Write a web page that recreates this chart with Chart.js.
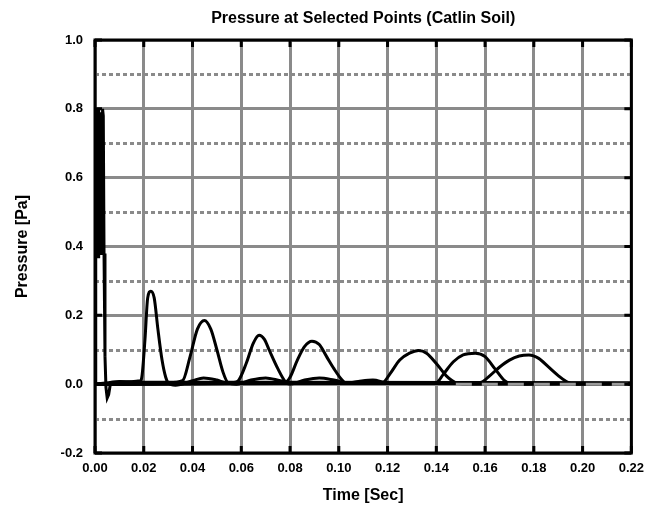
<!DOCTYPE html>
<html>
<head>
<meta charset="utf-8">
<script src="https://cdn.jsdelivr.net/npm/chart.js@4.4.1/dist/chart.umd.min.js"></script>
<style>
  html, body { margin: 0; padding: 0; background: #fff; }
  canvas { display: block; }
</style>
</head>
<body>
<canvas id="chart" width="652" height="510"></canvas>
<script>
// Labels
const chartTitle = 'Pressure at Selected Points (Catlin Soil)';
const xAxisTitle = 'Time [Sec]';
const yAxisTitle = 'Pressure [Pa]';

// Axis ticks
const xTickValues = [0, 0.02, 0.04, 0.06, 0.08, 0.10, 0.12, 0.14, 0.16, 0.18, 0.20, 0.22];
const yTickValues = [-0.2, 0, 0.2, 0.4, 0.6, 0.8, 1.0];
const yMinorValues = [-0.1, 0.1, 0.3, 0.5, 0.7, 0.9];

// Pressure histories at the selected points (time in s, pressure in Pa)
const time1 = [0, 0.0003, 0.0005, 0.0007, 0.0009, 0.0011, 0.0013, 0.0015, 0.0017, 0.0019, 0.0021, 0.0023, 0.0025, 0.0027, 0.0029, 0.0031, 0.0034, 0.0037, 0.0041, 0.0045, 0.0050, 0.0056, 0.0064, 0.0100, 0.0160, 0.22];
const pressure1 = [0, 0.80, 0.37, 0.80, 0.38, 0.79, 0.37, 0.80, 0.38, 0.79, 0.39, 0.78, 0.38, 0.79, 0.40, 0.80, 0.78, 0.38, 0.08, -0.01, -0.04, -0.03, 0.005, 0.008, 0.006, 0.004];

const time2 = [0, 0.010, 0.0185, 0.0192, 0.0205, 0.0216, 0.0229, 0.0243, 0.0258, 0.0275, 0.0290, 0.0300, 0.0330, 0.0400, 0.0445, 0.0500, 0.0540, 0.0800, 0.22];
const pressure2 = [0, 0.006, 0.010, 0.020, 0.13, 0.25, 0.27, 0.25, 0.16, 0.07, 0.02, 0.004, -0.003, 0.010, 0.018, 0.012, 0.004, 0.003, 0.002];

const time3 = [0, 0.030, 0.0359, 0.039, 0.042, 0.0449, 0.0475, 0.050, 0.0525, 0.0545, 0.058, 0.064, 0.070, 0.076, 0.082, 0.22];
const pressure3 = [0, 0.004, 0.010, 0.08, 0.16, 0.185, 0.16, 0.10, 0.035, 0.005, 0.0, 0.012, 0.018, 0.010, 0.003, 0.002];

const time4 = [0, 0.050, 0.057, 0.059, 0.062, 0.065, 0.0673, 0.0695, 0.0714, 0.075, 0.078, 0.080, 0.086, 0.092, 0.098, 0.104, 0.22];
const pressure4 = [0, 0.004, 0.005, 0.012, 0.06, 0.12, 0.142, 0.13, 0.10, 0.045, 0.008, 0.0, 0.012, 0.018, 0.012, 0.003, 0.002];

const time5 = [0, 0.070, 0.078, 0.080, 0.083, 0.086, 0.089, 0.092, 0.095, 0.098, 0.101, 0.103, 0.108, 0.114, 0.120, 0.22];
const pressure5 = [0, 0.003, 0.005, 0.02, 0.07, 0.11, 0.125, 0.115, 0.08, 0.045, 0.015, 0.003, 0.008, 0.012, 0.004, 0.002];

const time6 = [0, 0.110, 0.118, 0.121, 0.125, 0.129, 0.1327, 0.136, 0.140, 0.144, 0.148, 0.152, 0.22];
const pressure6 = [0, 0.004, 0.005, 0.03, 0.07, 0.09, 0.098, 0.09, 0.06, 0.025, 0.004, 0.0, 0.002];

const time7 = [0, 0.130, 0.140, 0.143, 0.147, 0.151, 0.156, 0.160, 0.164, 0.168, 0.170, 0.174, 0.22];
const pressure7 = [0, 0.004, 0.005, 0.03, 0.065, 0.085, 0.09, 0.08, 0.045, 0.01, 0.002, 0.0, 0.002];

const time8 = [0, 0.150, 0.158, 0.162, 0.166, 0.170, 0.174, 0.178, 0.182, 0.186, 0.190, 0.194, 0.197, 0.22];
const pressure8 = [0, 0.004, 0.005, 0.025, 0.05, 0.07, 0.082, 0.085, 0.075, 0.05, 0.025, 0.005, 0.0, 0.0];

// Grey dashed reference trace along zero at late times
const timeRef = [0.148, 0.22];
const pressureRef = [0, 0];

const GRID = '#8a8a8a';
const FONT = '"Liberation Sans", Arial, sans-serif';

function toPoints(ts, ps) {
  return ts.map((t, i) => ({ x: t, y: ps[i] }));
}

const series = [
  [time1, pressure1, 0], [time2, pressure2, 0.4], [time3, pressure3, 0.4], [time4, pressure4, 0.4],
  [time5, pressure5, 0.4], [time6, pressure6, 0.4], [time7, pressure7, 0.4], [time8, pressure8, 0.4]
];

const datasets = series.map(([ts, ps, tension], i) => ({
  label: 'Point ' + (i + 1),
  data: toPoints(ts, ps),
  borderColor: '#000',
  borderWidth: 3,
  pointRadius: 0,
  tension: tension,
  cubicInterpolationMode: tension ? 'monotone' : 'default',
  fill: false,
  order: 1
}));

datasets.push({
  label: 'Reference',
  data: toPoints(timeRef, pressureRef),
  borderColor: '#9a9a9a',
  borderWidth: 3,
  borderDash: [16, 10],
  pointRadius: 0,
  fill: false,
  order: 0
});

// Dotted minor lines, black frame with inward ticks, and the title
const framePlugin = {
  id: 'frame',
  beforeDatasetsDraw(chart) {
    const { ctx, chartArea: a, scales: { y } } = chart;
    ctx.save();
    ctx.strokeStyle = GRID;
    ctx.lineWidth = 3;
    ctx.setLineDash([4, 3]);
    yMinorValues.forEach(v => {
      const py = Math.round(y.getPixelForValue(v)) + 0.5;
      ctx.beginPath();
      ctx.moveTo(a.left, py);
      ctx.lineTo(a.right, py);
      ctx.stroke();
    });
    ctx.restore();
  },
  afterDraw(chart) {
    const { ctx, chartArea: a, scales: { x, y } } = chart;
    ctx.save();
    ctx.strokeStyle = '#000';
    ctx.lineWidth = 3;
    ctx.setLineDash([]);
    ctx.strokeRect(a.left, a.top, a.right - a.left, a.bottom - a.top);
    const len = 7;
    ctx.beginPath();
    xTickValues.forEach(v => {
      const px = x.getPixelForValue(v);
      ctx.moveTo(px, a.bottom); ctx.lineTo(px, a.bottom - len);
      ctx.moveTo(px, a.top); ctx.lineTo(px, a.top + len);
    });
    yTickValues.forEach(v => {
      const py = y.getPixelForValue(v);
      ctx.moveTo(a.left, py); ctx.lineTo(a.left + len, py);
      ctx.moveTo(a.right, py); ctx.lineTo(a.right - len, py);
    });
    ctx.stroke();
    ctx.fillStyle = '#000';
    ctx.font = 'bold 16px ' + FONT;
    ctx.textAlign = 'center';
    ctx.textBaseline = 'middle';
    ctx.fillText(chartTitle, (a.left + a.right) / 2, 19);
    ctx.restore();
  }
};

new Chart(document.getElementById('chart'), {
  type: 'line',
  data: { datasets },
  plugins: [framePlugin],
  options: {
    responsive: false,
    animation: false,
    events: [],
    layout: { padding: { left: 0, right: 20, top: 40, bottom: 0 } },
    plugins: {
      legend: { display: false },
      title: { display: false },
      tooltip: { enabled: false }
    },
    scales: {
      x: {
        type: 'linear',
        min: 0,
        max: 0.22,
        afterBuildTicks: s => { s.ticks = xTickValues.map(v => ({ value: v })); },
        afterFit: s => { s.height = 57; },
        ticks: {
          color: '#000',
          padding: 8,
          maxRotation: 0,
          autoSkip: false,
          font: { family: FONT, size: 13, weight: 'bold' },
          callback: v => Number(v).toFixed(2)
        },
        grid: { color: GRID, lineWidth: 3, drawTicks: false },
        border: { display: false },
        title: {
          display: true,
          text: xAxisTitle,
          color: '#000',
          font: { family: FONT, size: 16, weight: 'bold' },
          padding: { top: 0, bottom: 5 }
        }
      },
      y: {
        type: 'linear',
        min: -0.2,
        max: 1.0,
        afterBuildTicks: s => { s.ticks = yTickValues.map(v => ({ value: v })); },
        afterFit: s => { s.width = 95; },
        ticks: {
          color: '#000',
          padding: 12,
          autoSkip: false,
          font: { family: FONT, size: 13, weight: 'bold' },
          callback: v => Number(v).toFixed(1)
        },
        grid: { color: GRID, lineWidth: 3, drawTicks: false },
        border: { display: false },
        title: {
          display: true,
          text: yAxisTitle,
          color: '#000',
          font: { family: FONT, size: 16, weight: 'bold' },
          padding: { top: 13, bottom: 0 }
        }
      }
    }
  }
});
</script>
</body>
</html>
